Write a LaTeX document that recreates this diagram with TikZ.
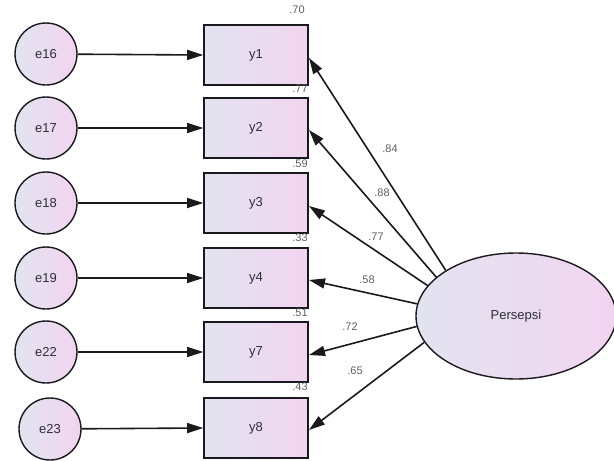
\documentclass[tikz,border=0pt]{standalone}
\usepackage{fontspec}
\setmainfont{Liberation Sans}
\usetikzlibrary{arrows.meta,shapes.geometric}
\definecolor{fillL}{RGB}{226,228,240}
\definecolor{fillR}{RGB}{242,212,240}
\definecolor{edgec}{RGB}{25,25,30}
\definecolor{txtc}{RGB}{45,45,55}
\definecolor{lblc}{RGB}{95,95,100}
\tikzset{
  errc/.style={circle,draw=edgec,line width=1.4pt,minimum size=62pt,inner sep=0pt,left color=fillL,right color=fillR,font=\fontsize{13}{15}\selectfont,text=txtc},
  obsbox/.style={rectangle,draw=edgec,line width=1.6pt,minimum width=104pt,minimum height=60pt,inner sep=0pt,left color=fillL,right color=fillR,font=\fontsize{13}{15}\selectfont,text=txtc},
  latent/.style={ellipse,draw=edgec,line width=1.4pt,minimum width=200pt,minimum height=126pt,inner sep=0pt,left color=fillL,right color=fillR,font=\fontsize{13}{15}\selectfont,text=txtc},
  arr/.style={draw=edgec,line width=1.6pt,-{Triangle[length=16pt,width=10pt]}},
  wlbl/.style={font=\fontsize{11}{13}\selectfont,text=lblc,inner sep=0pt},
}
\begin{document}
\begin{tikzpicture}[x=1pt,y=-1pt]
\useasboundingbox (0,0) rectangle (614,461);
% error terms
\node[errc] (e16) at (46,54) {e16};
\node[errc] (e17) at (46,128) {e17};
\node[errc] (e18) at (46,203) {e18};
\node[errc] (e19) at (46,278) {e19};
\node[errc] (e22) at (46,352) {e22};
\node[errc] (e23) at (50,429) {e23};
% observed
\node[obsbox] (y1) at (256,55) {y1};
\node[obsbox] (y2) at (256,128) {y2};
\node[obsbox] (y3) at (256,203) {y3};
\node[obsbox] (y4) at (256,278) {y4};
\node[obsbox] (y7) at (256,352) {y7};
\node[obsbox] (y8) at (256,428) {y8};
% latent
\node[latent] (P) at (516,316) {Persepsi};
% squared multiple correlations
\node[wlbl] (r1) at (297,10) {.70};
\node[wlbl] (r2) at (300,89) {.77};
\node[wlbl] (r3) at (300,164) {.59};
\node[wlbl] (r4) at (300,238) {.33};
\node[wlbl] (r7) at (300,313) {.51};
\node[wlbl] (r8) at (300,387) {.43};
% error arrows
\draw[arr] (e16) -- (y1.west);
\draw[arr] (e17) -- (y2.west);
\draw[arr] (e18) -- (y3.west);
\draw[arr] (e19) -- (y4.west);
\draw[arr] (e22) -- (y7.west);
\draw[arr] (e23) -- (y8.west);
% loadings
\coordinate (t1) at (309,58);
\coordinate (t2) at (309,130);
\coordinate (t3) at (309,206);
\coordinate (t4) at (309,280);
\coordinate (t7) at (309,355);
\coordinate (t8) at (309,430);
\draw[arr] (P.147) -- (t1);
\draw[arr] (P.154) -- (t2);
\draw[arr] (P.161) -- (t3);
\draw[arr] (P.173) -- (t4);
\draw[arr] (P.186) -- (t7);
\draw[arr] (P.196) -- (t8);
\node[wlbl] (w1) at (390,149) {.84};
\node[wlbl] (w2) at (382,193) {.88};
\node[wlbl] (w3) at (376,237) {.77};
\node[wlbl] (w4) at (367,280) {.58};
\node[wlbl] (w7) at (350,327) {.72};
\node[wlbl] (w8) at (355,371) {.65};
\end{tikzpicture}
\end{document}
